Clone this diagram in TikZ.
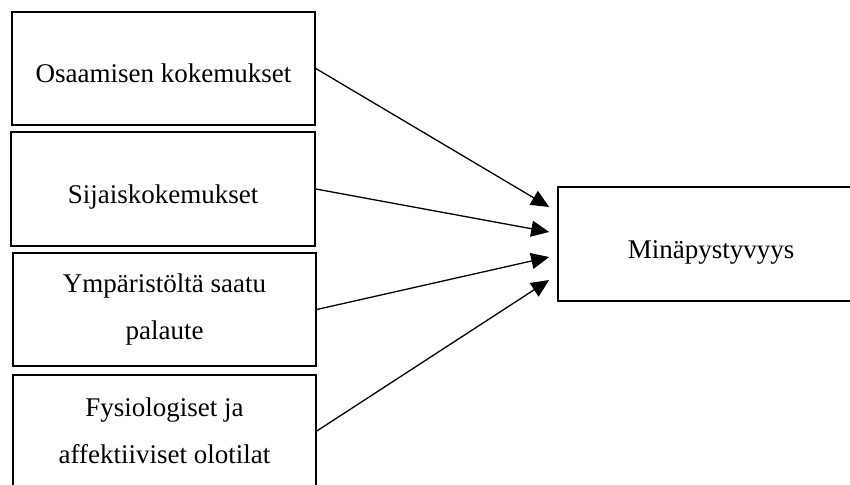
\documentclass[tikz,border=0pt]{standalone}
\usepackage{fontspec}
\setmainfont{Liberation Serif}
\usetikzlibrary{arrows.meta}

\begin{document}
\begin{tikzpicture}[x=1pt,y=-1pt]
	\tikzset{box/.style={draw,line width=1.6pt,inner sep=0pt,align=center,
			font=\fontsize{27}{47}\selectfont},
		oneline/.style={text height=28pt,text depth=0pt},
		arr/.style={line width=1.3pt,-{Triangle[length=18pt,width=16pt]}}}
	\useasboundingbox (0,0) rectangle (850,484);
	\node[box,oneline,minimum width=303pt,minimum height=113pt] (osaaminen) at (163.5,68.5) {Osaamisen kokemukset};
	\node[box,oneline,minimum width=304pt,minimum height=114pt] (sijais) at (163,189) {Sijaiskokemukset};
	\node[box,minimum width=303pt,minimum height=113pt] (palaute) at (164.5,309.5) {Ympäristöltä saatu\\palaute};
	\node[box,minimum width=303pt,minimum height=112pt] (olotilat) at (164.5,431) {Fysiologiset ja\\affektiiviset olotilat};
	\node[box,oneline,minimum width=306pt,minimum height=114pt] (mina) at (711,244) {Minäpystyvyys};
	% arrows into the right box
	\draw[arr] (osaaminen.east) -- ([xshift=-8pt,yshift=37pt]mina.west);
	\draw[arr] (sijais.east) -- ([xshift=-8pt,yshift=12pt]mina.west);
	\draw[arr] (palaute.east) -- ([xshift=-8pt,yshift=-13pt]mina.west);
	\draw[arr] (olotilat.east) -- ([xshift=-8pt,yshift=-36pt]mina.west);
\end{tikzpicture}
\end{document}
